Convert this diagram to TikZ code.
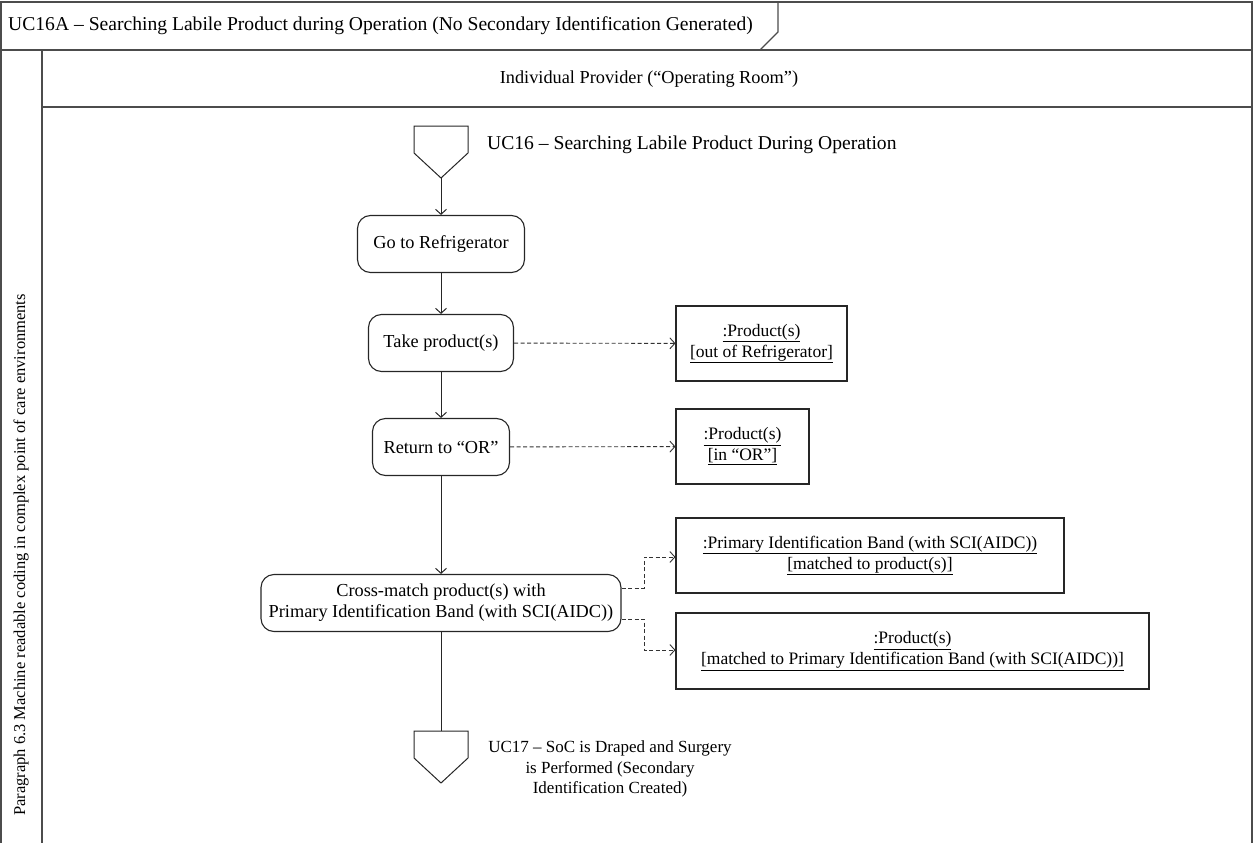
\documentclass[tikz,border=0pt]{standalone}
\usepackage{fontspec}
\setmainfont{Liberation Serif}
\usetikzlibrary{arrows.meta}
\begin{document}
\begin{tikzpicture}[x=1pt,y=-1pt,
  every node/.style={font=\fontsize{18.3}{21}\selectfont, inner sep=0pt},
  frameline/.style={draw=black!70, line width=1.3pt},
  action/.style={draw=black!85, line width=1.1pt, rounded corners=13pt, align=center, minimum height=57pt},
  objbox/.style={draw=black!85, line width=1.1pt, align=center, minimum height=75pt, font=\fontsize{17.5}{21}\selectfont},
  connector/.style={draw=black!85, line width=1pt},
  flow/.style={connector, -{Straight Barb[length=5pt,width=11pt]}},
  objflow/.style={draw=black!80, line width=0.9pt, dash pattern=on 4pt off 2.5pt, -{Straight Barb[length=5pt,width=11pt]}},
  bigtext/.style={font=\fontsize{19.6}{23}\selectfont},
]
\useasboundingbox (0,0) rectangle (1256,843);

% frame of the activity and its lanes
\draw[frameline] (1,846) -- (1,2) -- (1252,2) -- (1252,846);
\draw[frameline] (1,50) -- (1252,50);
\draw[frameline] (778,2) -- (778,32) -- (760,50);
\draw[frameline] (42,50) -- (42,846);
\draw[frameline] (42,107) -- (1252,107);

\node[bigtext, anchor=west] (title) at (8,26) {UC16A – Searching Labile Product during Operation (No Secondary Identification Generated)};
\node (pool) at (649,79) {Individual Provider (“Operating Room”)};
\node[rotate=90, font=\fontsize{16.5}{19}\selectfont] (lane) at (21,555) {Paragraph 6.3 Machine readable coding in complex point of care environments};

% entry and exit connectors
\draw[connector] (414,126) -- (468,126) -- (468,153) -- (441,178) coordinate (starttip) -- (414,153) -- cycle;
\node[bigtext, anchor=west] (startlabel) at (487,145) {UC16 – Searching Labile Product During Operation};

\draw[connector] (414,731) -- (441,731) coordinate (endtop) -- (468,731) -- (468,758) -- (441,783) -- (414,758) -- cycle;
\node[align=center, font=\fontsize{17}{20.5}\selectfont] (endlabel) at (610,769) {UC17 – SoC is Draped and Surgery\\is Performed (Secondary\\Identification Created)};

% actions
\node[action, minimum width=167pt] (fridge) at (441,244) {Go to Refrigerator};
\node[action, minimum width=145pt] (take) at (441,343) {Take product(s)};
\node[action, minimum width=137pt] (ret) at (441,447) {Return to “OR”};
\node[action, minimum width=360pt] (cross) at (441,603) {Cross-match product(s) with\\Primary Identification Band (with SCI(AIDC))};

% object nodes
\node[objbox, minimum width=171pt] (prodout) at (761.5,343.5) {\underline{:Product(s)}\\\underline{[out of Refrigerator]}};
\node[objbox, minimum width=133pt] (prodor) at (742.5,446.5) {\underline{:Product(s)}\\\underline{[in “OR”]}};
\node[objbox, minimum width=388pt] (band) at (870,555.5) {\underline{:Primary Identification Band (with SCI(AIDC))}\\\underline{[matched to product(s)]}};
\node[objbox, minimum width=473pt, minimum height=76pt] (prodmatch) at (912.5,651) {\underline{:Product(s)}\\\underline{[matched to Primary Identification Band (with SCI(AIDC))]}};

% control flow
\draw[flow] (starttip) -- (fridge);
\draw[flow] (fridge) -- (take);
\draw[flow] (take) -- (ret);
\draw[flow] (ret) -- (cross);
\draw[connector] (cross) -- (endtop);

% object flow
\draw[objflow] (cross.east |- 0,588) -- (644,588) |- (band.west |- 0,557);
\draw[objflow] (cross.east |- 0,619) -- (644,619) |- (prodmatch.west |- 0,650);
\draw[objflow] (take) -- (prodout);
\draw[objflow] (ret) -- (prodor);
\end{tikzpicture}
\end{document}
